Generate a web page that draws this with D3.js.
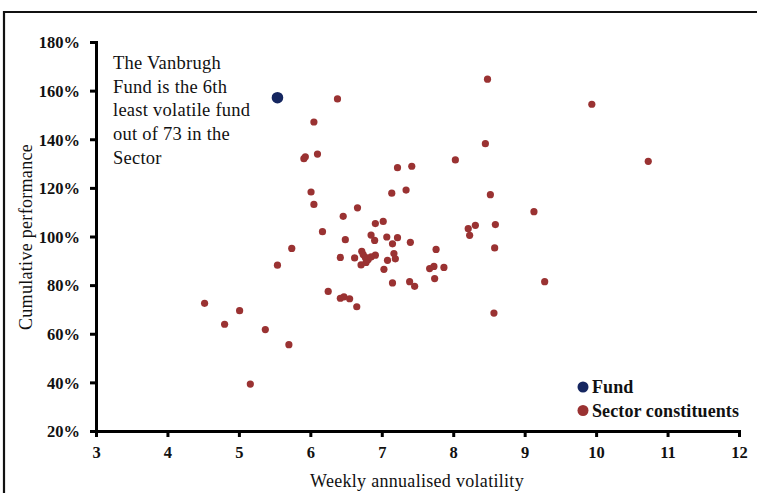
<!DOCTYPE html>
<html>
<head>
<meta charset="utf-8">
<script src="https://cdn.jsdelivr.net/npm/d3@7/dist/d3.min.js"></script>
<style>
  html, body { margin: 0; padding: 0; background: #fff; }
  svg { display: block; }
  text { font-family: "Liberation Serif", "DejaVu Serif", serif; fill: #111; }
</style>
</head>
<body>
<svg id="chart" width="757" height="493"></svg>
<script>
// Sector constituents: weekly annualised volatility
const sectorVol = [
  6.38, 6.05, 5.91, 5.93, 6.10, 6.01, 6.05, 6.66, 6.46, 6.17,
  6.49, 6.91, 6.85, 6.90, 5.74, 6.72, 8.48, 9.94, 8.45, 8.03,
  7.22, 7.42, 10.73, 7.14, 7.34, 8.52, 9.13, 7.02, 8.21, 8.31,
  8.59, 8.23, 7.07, 7.22, 7.15, 7.40, 7.76, 8.58, 6.42, 6.62,
  6.74, 6.91, 6.71, 6.77, 6.81, 6.85, 6.78, 5.54, 6.25, 6.42,
  6.47, 6.55, 6.65, 4.52, 5.01, 4.80, 5.37, 5.70, 5.16, 7.17,
  7.19, 7.08, 7.03, 7.67, 7.73, 7.87, 7.74, 7.15, 7.39, 7.46,
  9.28, 8.57
];
// Sector constituents: cumulative performance (%)
const sectorPerf = [
  156.6, 147.1, 132.0, 132.8, 133.9, 118.3, 113.2, 111.8, 108.3, 102.0,
  98.7, 105.3, 100.6, 98.4, 95.1, 93.9, 164.7, 154.4, 138.2, 131.5,
  128.3, 128.9, 130.9, 117.8, 119.1, 117.2, 110.2, 106.2, 103.2, 104.6,
  104.9, 100.5, 99.8, 99.5, 97.0, 97.6, 94.7, 95.3, 91.4, 91.2,
  92.6, 92.3, 88.3, 91.4, 90.5, 91.6, 89.3, 88.2, 77.4, 74.6,
  75.2, 74.4, 71.1, 72.5, 69.5, 63.9, 61.7, 55.5, 39.3, 93.0,
  90.8, 90.2, 86.5, 86.8, 87.7, 87.3, 82.7, 80.9, 81.4, 79.5,
  81.4, 68.5
];
// The fund
const fundVol = [5.54];
const fundPerf = [157.1];

const xTicks = [3, 4, 5, 6, 7, 8, 9, 10, 11, 12];
const yTicks = [20, 40, 60, 80, 100, 120, 140, 160, 180];

const seriesNames = ["Fund", "Sector constituents"];
const seriesColors = ["#152660", "#9a3232"];

const annotationLines = ["The Vanbrugh", "Fund is the 6th", "least volatile fund", "out of 73 in the", "Sector"];

const svg = d3.select("#chart");

// outer frame (top and left edges visible)
svg.append("path")
  .attr("d", "M4,493 L4,12 L757,12")
  .attr("fill", "none").attr("stroke", "#111").attr("stroke-width", 2.2);

const x = d3.scaleLinear().domain([3, 12]).range([96, 739]);
const y = d3.scaleLinear().domain([20, 180]).range([431, 42]);

// Y axis
const yAxis = d3.axisLeft(y).tickValues(yTicks).tickFormat(d => d + "%").tickSize(6).tickPadding(10);
const gy = svg.append("g").attr("transform", "translate(96,0)").call(yAxis);
gy.attr("font-family", null);
gy.select(".domain").attr("stroke", "#000").attr("stroke-width", 3);
gy.selectAll(".tick line").attr("stroke", "#000").attr("stroke-width", 3);
gy.selectAll(".tick text").attr("font-size", 16.5).attr("font-weight", "bold")
  .attr("fill", "#111").attr("dy", "0.35em");

// X axis
const xAxis = d3.axisBottom(x).tickValues(xTicks).tickFormat(d3.format("d")).tickSize(6).tickPadding(9);
const gx = svg.append("g").attr("transform", "translate(0,431)").call(xAxis);
gx.attr("font-family", null);
gx.select(".domain").attr("stroke", "#000").attr("stroke-width", 3);
gx.selectAll(".tick line").attr("stroke", "#000").attr("stroke-width", 3);
gx.selectAll(".tick text").attr("font-size", 16.5).attr("font-weight", "bold")
  .attr("fill", "#111");

// axis titles
svg.append("text")
  .attr("x", 417).attr("y", 487)
  .attr("text-anchor", "middle").attr("font-size", 18).attr("letter-spacing", 0.3)
  .text("Weekly annualised volatility");
svg.append("text")
  .attr("transform", "translate(32,237) rotate(-90)")
  .attr("text-anchor", "middle").attr("font-size", 18).attr("letter-spacing", 0.3)
  .text("Cumulative performance");

// points
const sector = sectorVol.map((v, i) => ({ v, p: sectorPerf[i] }));
svg.append("g").selectAll("circle").data(sector).join("circle")
  .attr("cx", d => x(d.v)).attr("cy", d => y(d.p)).attr("r", 3.6)
  .attr("fill", seriesColors[1]);

const fund = fundVol.map((v, i) => ({ v, p: fundPerf[i] }));
svg.append("g").selectAll("circle").data(fund).join("circle")
  .attr("cx", d => x(d.v)).attr("cy", d => y(d.p)).attr("r", 5.8)
  .attr("fill", seriesColors[0]);

// annotation
const ann = svg.append("text").attr("x", 113).attr("y", 69).attr("font-size", 18.5).attr("letter-spacing", 0.25);
annotationLines.forEach((t, i) => {
  ann.append("tspan").attr("x", 113).attr("dy", i === 0 ? 0 : 23.7).text(t);
});

// legend
const legend = svg.append("g");
seriesNames.forEach((name, i) => {
  const ly = 387 + i * 23.5;
  legend.append("circle").attr("cx", 583).attr("cy", ly).attr("r", 5.5).attr("fill", seriesColors[i]);
  legend.append("text").attr("x", 592).attr("y", ly).attr("dy", "0.35em")
    .attr("font-size", 18).attr("font-weight", "bold").attr("letter-spacing", 0.1).text(name);
});
</script>
</body>
</html>
